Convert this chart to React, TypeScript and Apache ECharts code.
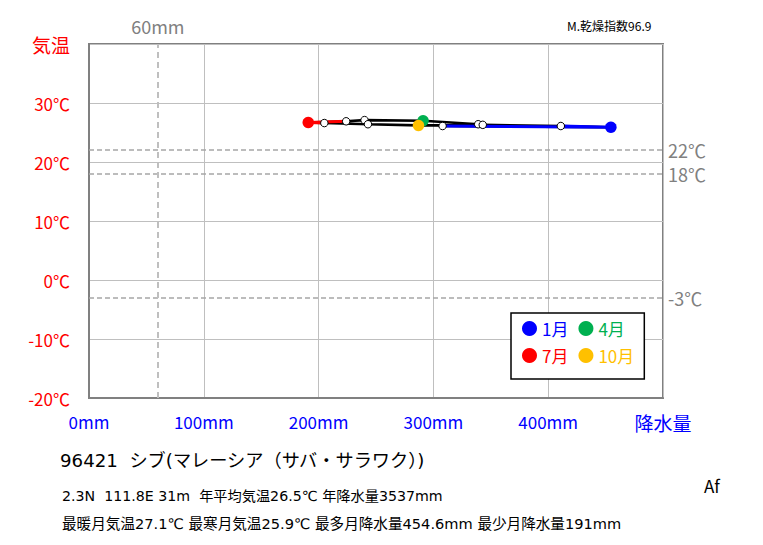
import { useEffect, useRef } from "react";
import * as echarts from "echarts";

const months = ["1月", "2月", "3月", "4月", "5月", "6月", "7月", "8月", "9月", "10月", "11月", "12月"];
const precip = [454.6, 308, 339, 291, 240, 224, 191, 205, 243, 287, 343, 411];
const temps = [25.9, 26.1, 26.4, 27.0, 27.1, 26.9, 26.7, 26.6, 26.4, 26.2, 26.3, 26.1];
const highlightIdx = [0, 3, 6, 9];
const highlightColors = ["#0000FF", "#00B050", "#FF0000", "#FFC000"];
const tempRefLines = [22, 18, -3];
const precipRefLine = 60;
const xTopLabel = "降水量";
const yTopLabel = "気温";
const stationTitle = "96421  シブ(マレーシア（サバ・サラワク）)";
const infoLine1 = "2.3N  111.8E 31m  年平均気温26.5℃ 年降水量3537mm";
const infoLine2 = "最暖月気温27.1℃ 最寒月気温25.9℃ 最多月降水量454.6mm 最少月降水量191mm";
const aridityText = "M.乾燥指数96.9";
const climateCode = "Af";

const FONT = "'Noto Sans CJK JP', 'Noto Sans', sans-serif";
const INFO_FONT = "'DejaVu Sans', 'Noto Sans CJK JP', sans-serif";

export default function App() {
  const ref = useRef<HTMLDivElement>(null);
  useEffect(() => {
    document.body.style.margin = "0";
    const chart = echarts.init(ref.current!, null, { renderer: "svg" });
    const pts = months.map((_, i) => [precip[i], temps[i]]);
    const at = (i: number) => pts[(i + 12) % 12];
    const loop = [...pts, pts[0]];
    const whites = pts.filter((_, i) => !highlightIdx.includes(i));

    const hlSeries = highlightIdx.map((mi, k) => ({
      name: months[mi],
      type: "scatter",
      data: [pts[mi]],
      symbol: "circle",
      symbolSize: 11.5,
      itemStyle: { color: highlightColors[k], opacity: 1 },
      z: 6,
    }));

    const option: any = {
      animation: false,
      textStyle: { fontFamily: FONT },
      grid: {
        left: 89,
        right: 100,
        top: 44,
        bottom: 147,
        show: true,
        borderColor: "#808080",
        borderWidth: 2,
        backgroundColor: "transparent",
      },
      xAxis: {
        type: "value",
        min: 0,
        max: 500,
        interval: 100,
        axisLine: { show: true, onZero: false, lineStyle: { color: "#808080", width: 2 } },
        axisTick: { show: false },
        splitLine: { show: true, lineStyle: { color: "#BFBFBF", width: 1 } },
        axisLabel: {
          color: "#0000FF",
          fontSize: 17,
          fontFamily: FONT,
          margin: 15,
          formatter: (v: number) => (v === 500 ? "{big|" + xTopLabel + "}" : v + "mm"),
          rich: { big: { fontSize: 19, color: "#0000FF", fontFamily: FONT } },
        },
      },
      yAxis: {
        type: "value",
        min: -20,
        max: 40,
        interval: 10,
        axisLine: { show: true, onZero: false, lineStyle: { color: "#808080", width: 2 } },
        axisTick: { show: false },
        splitLine: { show: true, lineStyle: { color: "#BFBFBF", width: 1 } },
        axisLabel: {
          color: "#FF0000",
          fontSize: 17,
          fontFamily: FONT,
          margin: 19,
          formatter: (v: number) => (v === 40 ? "{big|" + yTopLabel + "}" : v + "℃"),
          rich: { big: { fontSize: 19, color: "#FF0000", fontFamily: FONT } },
        },
      },
      legend: {
        left: 511,
        top: 313,
        width: 120,
        orient: "horizontal",
        icon: "circle",
        itemWidth: 15,
        itemHeight: 15,
        itemGap: 10,
        padding: [7, 10, 15, 11],
        backgroundColor: "#FFFFFF",
        borderColor: "#000000",
        borderWidth: 1.5,
        borderRadius: 0,
        selectedMode: false,
        data: highlightIdx.map((mi, k) => ({
          name: months[mi],
          itemStyle: { color: highlightColors[k], opacity: 1 },
          textStyle: { color: highlightColors[k], fontSize: 17, lineHeight: 15, fontFamily: FONT },
        })),
        textStyle: { fontSize: 17, lineHeight: 15 },
      },
      series: [
        {
          name: "loop",
          type: "line",
          data: loop,
          symbol: "none",
          lineStyle: { color: "#000000", width: 2.6 },
          z: 3,
          markLine: {
            silent: true,
            symbol: "none",
            animation: false,
            lineStyle: { type: [5, 3], color: "#A6A6A6", width: 1.5 },
            label: { position: "end", color: "#808080", fontSize: 18, fontFamily: FONT, distance: 5 },
            data: [
              ...tempRefLines.map((v) => ({ yAxis: v, label: { formatter: v + "℃" } })),
              {
                xAxis: precipRefLine,
                lineStyle: { type: [6, 4], color: "#BFBFBF", width: 2 },
                label: { formatter: precipRefLine + "mm", distance: 9 },
              },
            ],
          },
        },
        {
          name: "winter",
          type: "line",
          data: [at(-1), at(0), at(1)],
          symbol: "none",
          lineStyle: { color: "#0000FF", width: 3 },
          z: 4,
        },
        {
          name: "summer",
          type: "line",
          data: [at(5), at(6), at(7)],
          symbol: "none",
          lineStyle: { color: "#FF0000", width: 3 },
          z: 4,
        },
        {
          name: "others",
          type: "scatter",
          data: whites,
          symbol: "circle",
          symbolSize: 7.5,
          itemStyle: { color: "#FFFFFF", borderColor: "#000000", borderWidth: 1, opacity: 1 },
          z: 5,
        },
        ...hlSeries,
      ],
      graphic: [
        { type: "text", left: 567, top: 19, style: { text: aridityText, fontSize: 12, fill: "#000", fontFamily: FONT } },
        { type: "text", left: 60, top: 451, style: { text: stationTitle, fontSize: 18.2, fill: "#000", fontFamily: INFO_FONT } },
        { type: "text", left: 62, top: 489, style: { text: infoLine1, fontSize: 14.2, fill: "#000", fontFamily: INFO_FONT } },
        { type: "text", left: 62, top: 516, style: { text: infoLine2, fontSize: 14.6, fill: "#000", fontFamily: INFO_FONT } },
        { type: "text", left: 704, top: 477, style: { text: climateCode, fontSize: 17, fill: "#000", fontFamily: FONT } },
      ],
    };
    chart.setOption(option);
    return () => chart.dispose();
  }, []);
  return <div ref={ref} style={{ width: 763, height: 545 }} />;
}
